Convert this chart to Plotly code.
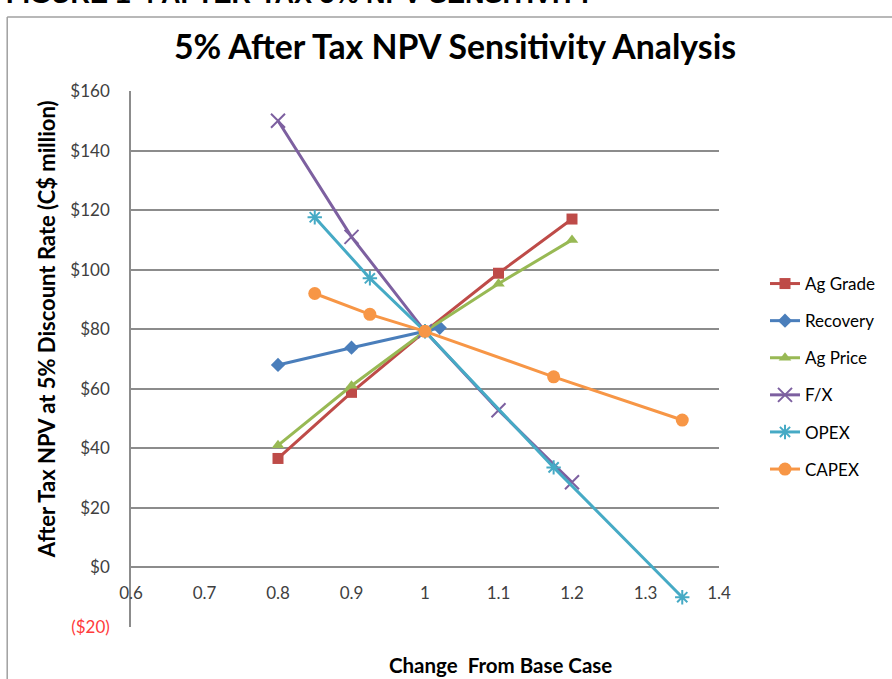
import plotly.graph_objects as go

# ---- data ----
grade_x = [0.8, 0.9, 1.0, 1.1, 1.2]
grade_y = [36.6, 58.8, 79.3, 98.8, 117.0]

recovery_x = [0.8, 0.9, 1.0, 1.02]
recovery_y = [68.0, 73.8, 79.3, 80.5]

price_x = [0.8, 0.9, 1.0, 1.1, 1.2]
price_y = [41.0, 61.0, 79.3, 95.3, 110.0]

fx_x = [0.8, 0.9, 1.0, 1.1, 1.2]
fx_y = [150.0, 111.0, 79.3, 52.8, 28.6]

opex_x = [0.85, 0.925, 1.0, 1.175, 1.35]
opex_y = [117.6, 97.1, 79.3, 33.6, -10.0]

capex_x = [0.85, 0.925, 1.0, 1.175, 1.35]
capex_y = [92.0, 85.0, 79.3, 64.0, 49.5]

y_ticks = [-20, 0, 20, 40, 60, 80, 100, 120, 140, 160]
y_ticktext = ['<span style="color:#FF3B3B">($20)</span>', "$0", "$20", "$40", "$60",
              "$80", "$100", "$120", "$140", "$160"]
x_ticks = [0.6, 0.7, 0.8, 0.9, 1.0, 1.1, 1.2, 1.3, 1.4]
x_ticktext = ["0.6", "0.7", "0.8", "0.9", "1", "1.1", "1.2", "1.3", "1.4"]

FONT = "Lato"

series = [
    ("Ag Grade", grade_x, grade_y, "#BE4B48", dict(symbol="square", size=11)),
    ("Recovery", recovery_x, recovery_y, "#4A7EBB", dict(symbol="diamond", size=11)),
    ("Ag Price", price_x, price_y, "#98B954", dict(symbol="triangle-up", size=11)),
    ("F/X", fx_x, fx_y, "#7D60A0", dict(symbol="x-thin-open", size=14, line=dict(width=2))),
    ("OPEX", opex_x, opex_y, "#46AAC5", dict(symbol="asterisk-open", size=12, line=dict(width=2))),
    ("CAPEX", capex_x, capex_y, "#F79646", dict(symbol="circle", size=13)),
]

fig = go.Figure()
for i, (name, xs, ys, col, mk) in enumerate(series):
    m = dict(color=col, **mk)
    if "line" in mk:
        m["line"] = dict(color=col, width=mk["line"]["width"])
    fig.add_trace(go.Scatter(
        x=xs, y=ys, name=name, mode="lines+markers",
        line=dict(color=col, width=3), marker=m, legendgroup=f"g{i}",
    ))

W, H = 892, 679
L, R, T, B = 131, 720, 91, 627


def px(xp):
    return (xp - L) / (R - L)


def py(yp):
    return (B - yp) / (B - T)


fig.update_layout(
    width=W, height=H,
    margin=dict(l=L, r=W - R, t=T, b=H - B),
    paper_bgcolor="white", plot_bgcolor="white",
    font=dict(family=FONT, color="#404040", size=17),
    title=dict(text="<b>5% After Tax NPV Sensitivity Analysis</b>", x=455 / W, xanchor="center",
               y=1 - 47 / H, yanchor="middle", font=dict(family=FONT, size=33.8, color="#000000")),
    xaxis=dict(range=[0.6, 1.4], tickvals=x_ticks, ticktext=x_ticktext, showgrid=False,
               zeroline=False, showline=False, ticks="", anchor="free", position=20 / 180,
               ticklabelstandoff=14,
               tickfont=dict(family=FONT, size=17, color="#404040")),
    yaxis=dict(range=[-20, 160], tickvals=y_ticks, ticktext=y_ticktext, showgrid=True,
               gridcolor="#8C8C8C", gridwidth=1.6, zeroline=False, showline=True,
               linecolor="#8C8C8C", linewidth=1.6, ticks="", ticklabelstandoff=16,
               tickfont=dict(family=FONT, size=17, color="#404040")),
    legend=dict(x=px(765), y=py(266), xanchor="left", yanchor="top", tracegroupgap=12,
                font=dict(family=FONT, size=17, color="#000000"), bgcolor="rgba(0,0,0,0)"),
    showlegend=True,
)

fig.add_annotation(text="<b>After Tax NPV at 5% Discount Rate (C$ million)</b>", textangle=-90,
                   xref="paper", yref="paper", x=px(46), y=py(329), xanchor="center",
                   yanchor="middle", showarrow=False,
                   font=dict(family=FONT, size=22, color="#000000"))
fig.add_annotation(text="<b>Change  From Base Case</b>", xref="paper", yref="paper",
                   x=px(501), y=py(665), xanchor="center", yanchor="middle", showarrow=False,
                   font=dict(family=FONT, size=20.5, color="#000000"))
fig.add_annotation(text="<b>FIGURE 1-4 AFTER-TAX 5% NPV SENSITIVITY</b>", xref="paper", yref="paper",
                   x=px(4), y=py(11), xanchor="left", yanchor="bottom", showarrow=False,
                   font=dict(family="Liberation Sans", size=27, color="#000000"))

# frame around the chart
fig.add_shape(type="line", xref="paper", yref="paper", x0=px(7), x1=px(7), y0=py(700), y1=py(17),
              line=dict(color="#A0A0A0", width=1.5))
fig.add_shape(type="line", xref="paper", yref="paper", x0=px(7), x1=px(900), y0=py(17), y1=py(17),
              line=dict(color="#A0A0A0", width=1.5))

fig.write_html("out.html", config={"displayModeBar": False},
               post_script="document.body.style.margin='0';document.body.style.padding='0';")
